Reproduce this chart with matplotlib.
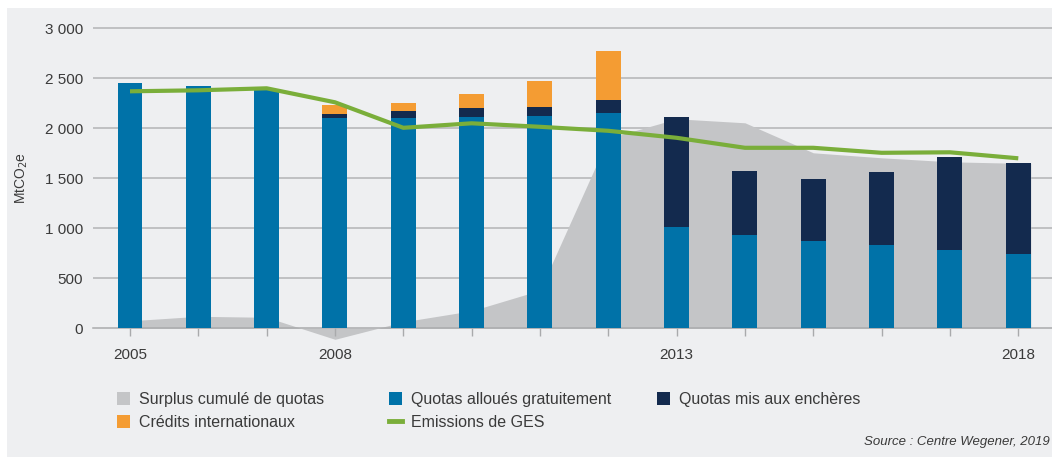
import matplotlib
matplotlib.use("Agg")
import matplotlib.pyplot as plt
from matplotlib.patches import Rectangle, Patch
from matplotlib.lines import Line2D
from matplotlib.ticker import FuncFormatter
import numpy as np

plt.rcParams['font.family'] = ['Liberation Sans', 'DejaVu Sans']

# ---------------- data ----------------
years = [2005, 2006, 2007, 2008, 2009, 2010, 2011, 2012, 2013, 2014, 2015, 2016, 2017, 2018]
labelled_years = [2005, 2008, 2013, 2018]
surplus = [75, 120, 110, -110, 65, 175, 380, 1900, 2095, 2055, 1755, 1705, 1665, 1650]
free_quotas = [2455, 2420, 2390, 2105, 2100, 2115, 2125, 2155, 1015, 935, 875, 835, 785, 745]
auctioned = [0, 0, 0, 40, 70, 85, 90, 125, 1100, 635, 620, 730, 930, 905]
intl_credits = [0, 0, 0, 85, 85, 140, 260, 490, 0, 0, 0, 0, 0, 0]
emissions = [2370, 2380, 2400, 2260, 2005, 2050, 2015, 1975, 1905, 1805, 1805, 1755, 1760, 1700]
yticks = [0, 500, 1000, 1500, 2000, 2500, 3000]

labels = ["Surplus cumulé de quotas", "Quotas alloués gratuitement",
          "Quotas mis aux enchères", "Crédits internationaux", "Emissions de GES"]
source = "Source : Centre Wegener, 2019"

# ---------------- style ----------------
c_grey = '#c4c5c7'
c_blue = '#0072a8'
c_navy = '#132a4e'
c_orange = '#f49c33'
c_green = '#7aae3a'
c_bg = '#eeeff1'
c_text = '#3a3a3a'
c_grid = '#b3b4b6'

W, H = 1052, 457
fig = plt.figure(figsize=(W / 100, H / 100), dpi=100, facecolor='white')
fig.patches.append(Rectangle((7 / W, 0), 1 - 7 / W, 1 - 8 / H, transform=fig.transFigure,
                             facecolor=c_bg, edgecolor='none', zorder=-10))

# axes placement (pixel based)
ymin, ymax = -150, 3020
y0px = 328.3
top_px = y0px - ymax * 0.1
bot_px = y0px - ymin * 0.1
ax = fig.add_axes([93 / W, (H - bot_px) / H, (W - 93) / W, (bot_px - top_px) / H])
ax.set_zorder(1)
ax.set_facecolor('none')
ax.set_ylim(ymin, ymax)
px_per_year = 68.33
ax.set_xlim(years[0] + (93 - 130) / px_per_year, years[0] + (W - 130) / px_per_year)

x = np.array(years, dtype=float)
bw = 25 / px_per_year

# grid
for yt in yticks[1:]:
    ax.axhline(yt, color=c_grid, lw=1.1, zorder=0.5)

# surplus area
xa = np.concatenate([x, [x[-1] + bw / 2]])
ya = np.concatenate([surplus, [surplus[-1]]])
ax.fill_between(xa, 0, ya, color=c_grey, lw=0, zorder=1)

# bars
free = np.array(free_quotas, dtype=float)
auc = np.array(auctioned, dtype=float)
cred = np.array(intl_credits, dtype=float)
ax.bar(x, free, width=bw, color=c_blue, zorder=3, lw=0)
ax.bar(x, auc, width=bw, bottom=free, color=c_navy, zorder=3, lw=0)
ax.bar(x, cred, width=bw, bottom=free + auc, color=c_orange, zorder=3, lw=0)

# emissions line
ax.plot(x, emissions, color=c_green, lw=3.0, solid_capstyle='butt', zorder=4)

# axes cosmetics
for s in ['top', 'right', 'left']:
    ax.spines[s].set_visible(False)
ax.spines['bottom'].set_position(('data', 0))
ax.spines['bottom'].set_color('#a9aaac')
ax.spines['bottom'].set_linewidth(1.1)
ax.spines['bottom'].set_zorder(2)

ax.set_yticks(yticks)
ax.yaxis.set_major_formatter(FuncFormatter(lambda v, p: f"{int(v):,}".replace(",", " ")))
ax.tick_params(axis='y', length=0, pad=7, labelsize=11, labelcolor=c_text)
ax.set_xticks(years)
ax.set_xticklabels([str(y) if y in labelled_years else '' for y in years])
ax.tick_params(axis='x', direction='out', length=6, width=1, color='#a9aaac',
               pad=8, labelsize=11, labelcolor=c_text)

fig.text(22 / W, (H - 178) / H, r"MtCO$_2$e", rotation=90, ha='center', va='center',
         fontsize=10, color=c_text)

# legends
handles = [Patch(facecolor=c_grey, edgecolor='none'),
           Patch(facecolor=c_blue, edgecolor='none'),
           Patch(facecolor=c_navy, edgecolor='none'),
           Patch(facecolor=c_orange, edgecolor='none'),
           Line2D([], [], color=c_green, lw=3.5)]
cols = [([0, 3], 117), ([1, 4], 389), ([2], 657)]
for idx, xpx in cols:
    leg = fig.legend([handles[i] for i in idx], [labels[i] for i in idx],
                     loc='upper left', bbox_to_anchor=(xpx / W, 1 - 392 / H),
                     frameon=False, fontsize=11.5, borderpad=0, borderaxespad=0,
                     handlelength=0.8, handleheight=0.85, handletextpad=0.6,
                     labelspacing=0.5, labelcolor=c_text)

fig.text(1050 / W, (H - 442) / H, source, ha='right', va='center', style='italic',
         fontsize=9.5, color=c_text)

fig.savefig('out.png', dpi=100, facecolor='white')
